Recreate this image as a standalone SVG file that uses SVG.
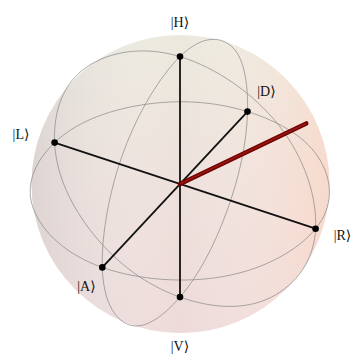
<svg xmlns="http://www.w3.org/2000/svg" width="352" height="356" viewBox="0 0 352 356">
<defs>
<linearGradient id="gv" x1="0" y1="0" x2="0" y2="1">
<stop offset="0" stop-color="#ebe9dd"/>
<stop offset="0.5" stop-color="#eee0db"/>
<stop offset="1" stop-color="#eddad9"/>
</linearGradient>
<linearGradient id="gh" x1="0" y1="0" x2="1" y2="0">
<stop offset="0" stop-color="#d0caca" stop-opacity="0.55"/>
<stop offset="0.5" stop-color="#ffffff" stop-opacity="0"/>
<stop offset="1" stop-color="#ffd4c0" stop-opacity="0.55"/>
</linearGradient>
<style>
.gc{fill:none;stroke:#868686;stroke-width:0.7}
.ax{stroke:#111;stroke-width:1.8;stroke-linecap:butt}
.dot{fill:#000}
.lbl{font-family:"Liberation Serif","DejaVu Serif",serif;font-size:14px;fill:#111;text-anchor:middle}
</style>
</defs>
<g id="sphere">
<circle cx="180.5" cy="184" r="149" fill="url(#gv)"/>
<circle cx="180.5" cy="184" r="149" fill="url(#gh)"/>
</g>
<g id="circles">
<path class="gc" d="M315.6,228.7 C297.7,250.5 264.5,269.0 224.5,276.3 C184.5,283.6 138.1,280.0 102.3,267.4 C66.5,254.8 42.4,232.4 33.5,209.0 C24.6,185.6 34.3,162.1 54.6,142.6 C74.9,123.1 105.7,110.7 141.9,104.9 C178.1,99.1 214.1,101.3 247.5,111.6 C280.9,122.0 307.3,138.1 320.1,160.1 C332.9,182.1 333.5,206.9 315.6,228.7 Z"/>
<path class="gc" d="M315.6,228.7 C317.1,196.5 304.4,157.9 279.0,125.6 C253.6,93.3 216.1,67.6 180,56.6 C143.9,45.7 110.0,51.1 86.5,67.2 C63.0,83.3 53.2,111.2 54.6,142.6 C56.0,174.0 70.4,205.8 93.9,234.8 C117.4,263.8 146.8,285.4 180,297.1 C213.2,308.8 245.4,310.2 270.8,297.4 C296.2,284.6 314.1,260.9 315.6,228.7 Z"/>
<path class="gc" d="M102.3,267.4 C101.4,234.9 109.2,190.6 123.8,151.1 C138.4,111.6 160.0,76.4 180,56.6 C200.1,36.8 218.0,35.3 230.7,45.6 C243.4,55.9 248.2,80.5 247.5,111.6 C246.8,142.7 239.5,176.6 226.8,211.4 C214.1,246.2 198.4,275.9 180,297.1 C161.6,318.3 143.1,330.2 128.5,324.6 C113.9,319.0 103.2,299.9 102.3,267.4 Z"/>
</g>
<g id="connectors">
<line class="ax" x1="180" y1="56.6" x2="180" y2="297.1"/>
<line class="ax" x1="54.6" y1="142.6" x2="315.6" y2="228.7"/>
<line class="ax" x1="247.5" y1="111.6" x2="102.3" y2="267.4"/>
</g>
<g id="vector">
<line x1="180" y1="184" x2="306.3" y2="123.4" stroke="#720000" stroke-width="4.4" stroke-linecap="round"/>
<line x1="181" y1="183.3" x2="305.8" y2="123.6" stroke="#9c1a14" stroke-width="1.4" stroke-linecap="round"/>
</g>
<g id="H"><circle class="dot" cx="180" cy="56.6" r="3.3"/><text class="lbl" x="180" y="26.5">|H⟩</text></g>
<g id="V"><circle class="dot" cx="180" cy="297.1" r="3.3"/><text class="lbl" x="180" y="351">|V⟩</text></g>
<g id="L"><circle class="dot" cx="54.6" cy="142.6" r="3.3"/><text class="lbl" x="21" y="139">|L⟩</text></g>
<g id="R"><circle class="dot" cx="315.6" cy="228.7" r="3.3"/><text class="lbl" x="342.5" y="240">|R⟩</text></g>
<g id="D"><circle class="dot" cx="247.5" cy="111.6" r="3.3"/><text class="lbl" x="266.5" y="96">|D⟩</text></g>
<g id="A"><circle class="dot" cx="102.3" cy="267.4" r="3.3"/><text class="lbl" x="86.5" y="290.5">|A⟩</text></g>
</svg>
